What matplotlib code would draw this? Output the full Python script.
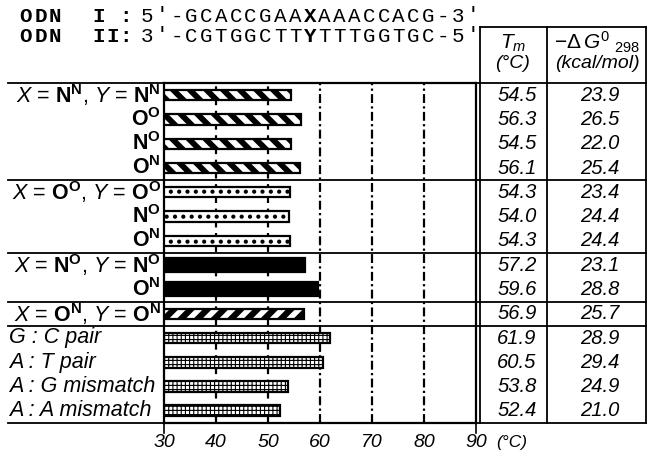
import matplotlib
matplotlib.use('Agg')
import matplotlib.pyplot as plt
import matplotlib.transforms as mtransforms
from matplotlib.lines import Line2D

plt.rcParams['font.family'] = ['Liberation Sans', 'DejaVu Sans']
plt.rcParams['mathtext.fontset'] = 'custom'
plt.rcParams['mathtext.rm'] = 'Liberation Sans'
plt.rcParams['mathtext.it'] = 'Liberation Sans:italic'
plt.rcParams['mathtext.bf'] = 'Liberation Sans:bold'

# data
row_labels = [
    r'$\mathit{X}$ = $\mathbf{N}^{\mathbf{N}}$, $\mathit{Y}$ = $\mathbf{N}^{\mathbf{N}}$',
    r'$\mathbf{O}^{\mathbf{O}}$',
    r'$\mathbf{N}^{\mathbf{O}}$',
    r'$\mathbf{O}^{\mathbf{N}}$',
    r'$\mathit{X}$ = $\mathbf{O}^{\mathbf{O}}$, $\mathit{Y}$ = $\mathbf{O}^{\mathbf{O}}$',
    r'$\mathbf{N}^{\mathbf{O}}$',
    r'$\mathbf{O}^{\mathbf{N}}$',
    r'$\mathit{X}$ = $\mathbf{N}^{\mathbf{O}}$, $\mathit{Y}$ = $\mathbf{N}^{\mathbf{O}}$',
    r'$\mathbf{O}^{\mathbf{N}}$',
    r'$\mathit{X}$ = $\mathbf{O}^{\mathbf{N}}$, $\mathit{Y}$ = $\mathbf{O}^{\mathbf{N}}$',
    'G : C pair',
    'A : T pair',
    'A : G mismatch',
    'A : A mismatch',
]
tm = [54.5, 56.3, 54.5, 56.1, 54.3, 54.0, 54.3, 57.2, 59.6, 56.9, 61.9, 60.5, 53.8, 52.4]
dg = [23.9, 26.5, 22.0, 25.4, 23.4, 24.4, 24.4, 23.1, 28.8, 25.7, 28.9, 29.4, 24.9, 21.0]
groups = ['NN', 'NN', 'NN', 'NN', 'OO', 'OO', 'OO', 'NO', 'NO', 'ON',
          'pair', 'pair', 'pair', 'pair']
group_breaks = [3.5, 6.5, 8.5, 9.5]
xticks = [30, 40, 50, 60, 70, 80, 90]
seq1 = "5'-GCACCGAAXAAACCACG-3'"
seq2 = "3'-CGTGGCTTYTTTGGTGC-5'"

# hatch, hatch linewidth, facecolor, bar height
styles = {
    'NN': ('\\\\', 4.2, 'white', 0.42),
    'OO': ('..', 1.8, 'white', 0.42),
    'NO': (None, 1.0, 'black', 0.58),
    'ON': ('//', 4.5, 'white', 0.40),
    'pair': ('++++', 0.8, 'white', 0.45),
}

W, H = 647, 451
fig = plt.figure(figsize=(W / 100, H / 100), dpi=100)
ax_l, ax_r, ax_t, ax_b = 164, 476, 83, 423
ax = fig.add_axes([ax_l / W, 1 - ax_b / H, (ax_r - ax_l) / W, (ax_b - ax_t) / H])

ypos = list(range(len(tm)))
for i in ypos:
    hatch, hlw, fc, h = styles[groups[i]]
    with plt.rc_context({'hatch.linewidth': hlw, 'hatch.color': 'black'}):
        bars = ax.barh(i, tm[i] - 30, left=30, height=h, color=fc,
                       edgecolor='black', linewidth=1.6, hatch=hatch, zorder=3)
    for b in bars:
        if hasattr(b, 'set_hatch_linewidth'):
            b.set_hatch_linewidth(hlw)

for x in [40, 50]:
    ax.axvline(x, color='black', lw=1.6, ls=(0, (3, 2.5)), zorder=1)
for x in [60, 70, 80]:
    ax.axvline(x, color='black', lw=1.6, ls=(0, (4, 1.5, 1, 1.5)), zorder=1)

ax.set_xlim(30, 90)
ax.set_ylim(13.5, -0.5)
ax.set_yticks([])
ax.set_xticks(xticks)
ax.set_xticklabels([str(t) for t in xticks], fontstyle='italic', fontsize=14)
ax.tick_params(axis='x', length=0, pad=8)
for s in ax.spines.values():
    s.set_linewidth(1.6)

# spine stubs below the axis
for x in [30, 90]:
    ax.plot([x, x], [13.5, 13.92], color='black', lw=1.2, clip_on=False)
fig.text(496 / W, 1 - 442 / H, '(°C)', fontstyle='italic', fontsize=12.5,
         ha='left', va='center')

# separators across labels, plot and table
blend = mtransforms.blended_transform_factory(fig.transFigure, ax.transData)
for y in [-0.5] + group_breaks + [13.5]:
    fig.add_artist(Line2D([8 / W, 645.5 / W], [y, y], transform=blend,
                          color='black', lw=1.3))

# row labels
for i, lab in enumerate(row_labels):
    if groups[i] == 'pair':
        ax.text(9 / W, i, lab, transform=blend, ha='left', va='center',
                fontsize=15.5, fontstyle='italic')
    else:
        ax.text(161 / W, i, lab, transform=blend, ha='right', va='center',
                fontsize=15.5)

# table
tb_top = 1 - 27 / H
tb_bot = 1 - ax_b / H
for x in [480, 547, 645.5]:
    fig.add_artist(Line2D([x / W, x / W], [tb_bot, tb_top], transform=fig.transFigure,
                          color='black', lw=1.3))
fig.add_artist(Line2D([480 / W, 645.5 / W], [tb_top, tb_top], transform=fig.transFigure,
                      color='black', lw=1.3))
for i in ypos:
    ax.text(517 / W, i, f'{tm[i]:.1f}', transform=blend, ha='center', va='center',
            fontsize=14.5, fontstyle='italic')
    ax.text(600 / W, i, f'{dg[i]:.1f}', transform=blend, ha='center', va='center',
            fontsize=14.5, fontstyle='italic')

fig.text(513 / W, 1 - 43 / H, r'$T_m$', ha='center', va='center', fontsize=15)
fig.text(513 / W, 1 - 64 / H, '(°C)', ha='center', va='center', fontsize=14,
         fontstyle='italic')
fig.text(597 / W, 1 - 42 / H, r'$-\Delta\,G^0\;{}_{298}$', ha='center', va='center',
         fontsize=15)
fig.text(597 / W, 1 - 64 / H, '(kcal/mol)', ha='center', va='center', fontsize=14,
         fontstyle='italic')

# sequence header, monospace placed char by char
def put_chars(text, x0, step, y, bold_idx=()):
    for k, c in enumerate(text):
        fig.text((x0 + k * step) / W, 1 - y / H, c, family='Liberation Mono',
                 fontsize=15, ha='center', va='center',
                 fontweight='bold' if k in bold_idx else 'normal')

for y, tag, seq in [(16, 'I :', seq1), (36, 'II:', seq2)]:
    put_chars('ODN', 26, 14.5, y, bold_idx=(0, 1, 2))
    put_chars(tag, 99, 13.5, y, bold_idx=(0, 1, 2))
    put_chars(seq, 147, 14.8, y, bold_idx=(11,))

plt.savefig('out.png', dpi=100)
plt.close()
